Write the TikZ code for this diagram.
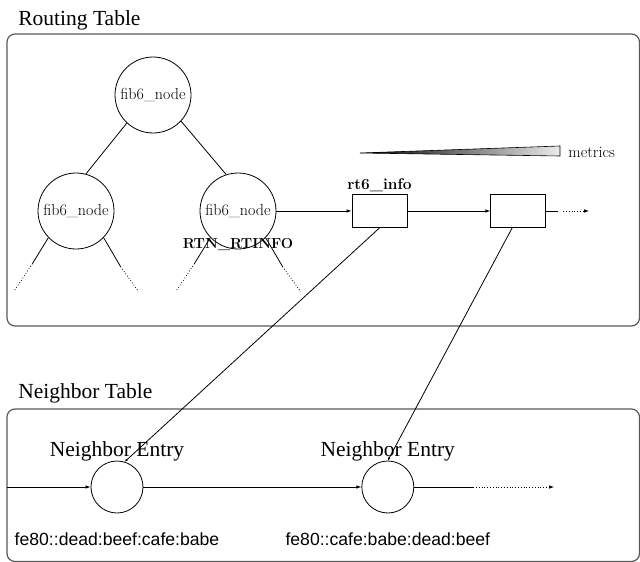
\documentclass[tikz,border=0pt]{standalone}
\usepackage{fontspec}
\newfontfamily\timesfont{Liberation Serif}
\newfontfamily\arialfont{Liberation Sans}
\usetikzlibrary{
		positioning,
		arrows.meta
	}
\tikzset{
		>={Latex[length=5pt,width=3.5pt]}
	}

\begin{document}
\begin{tikzpicture}[x=1pt, y=-1pt, line width=0.8pt,
		table/.style={draw=black!65, line width=1.2pt, rounded corners=8pt},
		title/.style={anchor=base west, inner sep=0pt, font=\timesfont\fontsize{21.5}{24}\selectfont},
		fib/.style={draw, circle, minimum size=76pt, inner sep=0pt, font=\fontsize{16}{18}\selectfont},
		info/.style={draw, minimum width=55pt, minimum height=33pt, inner sep=0pt},
		entry/.style={draw, circle, minimum size=52pt, inner sep=0pt},
		entrylabel/.style={font=\timesfont\fontsize{21.5}{24}\selectfont, inner sep=0pt, label distance=-1pt},
		addr/.style={font=\arialfont\fontsize{17.6}{20}\selectfont, inner sep=0pt, label distance=19pt}]
		\useasboundingbox (0,0) rectangle (640,562);

		% routing table
		\node[title] (rtitle) at (18,25) {Routing Table};
		\draw[table] (7,34) rectangle (639.5,326);

		\node[fib] (fibtop) at (153,95) {fib6\_node};
		\node[fib] (fibl) at (76,211) {fib6\_node};
		\node[fib, label={[font=\bfseries\fontsize{14.5}{16}\selectfont, inner sep=0pt, label distance=-11.4pt]below:RTN\_RTINFO}] (fibr) at (238,211) {fib6\_node};
		\draw (fibtop.-133) -- (fibl.75);
		\draw (fibtop.-43) -- (fibr.108);
		\foreach \n in {fibl, fibr}{
				\draw (\n.-136) -- ++(-16,26) coordinate (\n-a); % solid stub, then dots
				\draw[dotted] (\n-a) -- ++(-18,27);
				\draw (\n.-44) -- ++(17,29) coordinate (\n-b);
				\draw[dotted] (\n-b) -- ++(18,25);
			}

		\node[info, label={[font=\bfseries\fontsize{15.5}{17}\selectfont, inner sep=0pt, label distance=2pt]above:rt6\_info}] (info1) at (379.5,211) {};
		\node[info, right=83pt of info1] (info2) {};
		\draw[->] (fibr) -- (info1);
		\draw[->] (info1) -- (info2);
		\draw (info2.east) -- ++(12,0) coordinate (imore);
		\draw[dotted, ->] (imore) ++(5,0) -- ++(26,0);

		% metrics wedge
		\shadedraw[left color=black, right color=black!8, draw=black, line width=0.6pt] (360,153) -- (560,146) -- (560,156) -- cycle;
		\node[anchor=base west, inner sep=0pt, font=\fontsize{16}{18}\selectfont] (metrics) at (568,157) {metrics};

		% neighbor table
		\node[title] (ntitle) at (18,398) {Neighbor Table};
		\draw[table] (7,409) rectangle (639.5,561.5);

		\node[entry, label={[entrylabel]above:Neighbor Entry}, label={[addr]below:{fe80::dead:beef:cafe:babe}}] (ne1) at (117,487) {};
		\node[entry, right=218pt of ne1, label={[entrylabel]above:Neighbor Entry}, label={[addr]below:{fe80::cafe:babe:dead:beef}}] (ne2) {};
		\coordinate (nin) at (7,487);
		\draw[->] (nin) -- (ne1);
		\draw[->] (ne1) -- (ne2);
		\draw (ne2.east) -- ++(59,0) coordinate (nmore);
		\draw[dotted, ->] (nmore) -- ++(81,0);

		% routes point at their neighbor
		\draw[-{Latex[length=3pt,width=2.5pt]}] (info1.south) -- (ne1.73);
		\draw[-{Latex[length=3pt,width=2.5pt]}] (info2.-110) -- (ne2.north);
	\end{tikzpicture}
\end{document}
